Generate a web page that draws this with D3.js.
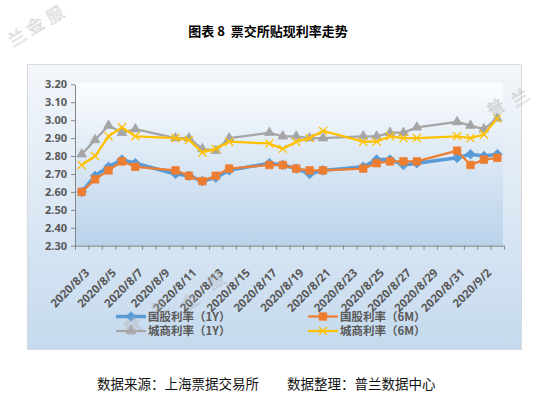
<!DOCTYPE html>
<html>
<head>
<meta charset="utf-8">
<script src="https://cdn.jsdelivr.net/npm/d3@7"></script>
<style>
  body { margin: 0; background: #fff; }
  svg { display: block; }
</style>
</head>
<body>
<div id="chart"></div>
<script>
// Trading days shown on the chart
const days = ["2020-08-03","2020-08-04","2020-08-05","2020-08-06","2020-08-07",
  "2020-08-10","2020-08-11","2020-08-12","2020-08-13","2020-08-14",
  "2020-08-17","2020-08-18","2020-08-19","2020-08-20","2020-08-21",
  "2020-08-24","2020-08-25","2020-08-26","2020-08-27","2020-08-28",
  "2020-08-31","2020-09-01","2020-09-02","2020-09-03"];

// Rates
const gg1y = [2.60,2.69,2.74,2.78,2.76, 2.70,2.69,2.66,2.68,2.72, 2.76,2.75,2.73,2.70,2.72, 2.74,2.78,2.78,2.75,2.76, 2.79,2.81,2.80,2.81];
const gg6m = [2.60,2.67,2.72,2.77,2.74, 2.72,2.69,2.66,2.69,2.73, 2.75,2.75,2.73,2.72,2.72, 2.73,2.76,2.77,2.77,2.77, 2.83,2.75,2.78,2.79];
const cs1y = [2.81,2.89,2.97,2.93,2.95, 2.90,2.90,2.84,2.83,2.90, 2.93,2.91,2.91,2.90,2.90, 2.91,2.91,2.93,2.93,2.96, 2.99,2.97,2.95,3.01];
const cs6m = [2.75,2.80,2.91,2.96,2.91, 2.90,2.89,2.82,2.84,2.88, 2.87,2.84,2.88,2.90,2.94, 2.88,2.88,2.91,2.90,2.90, 2.91,2.90,2.92,3.01];

const seriesNames = ["国股利率（1Y）", "国股利率（6M）", "城商利率（1Y）", "城商利率（6M）"];
const yTicks = [2.30,2.40,2.50,2.60,2.70,2.80,2.90,3.00,3.10,3.20];

const W = 536, H = 394;
const parse = d3.timeParse("%Y-%m-%d");
const fmt = d3.timeFormat("%Y/%-m/%-d");
const dates = days.map(parse);

const svg = d3.select("#chart").append("svg")
  .attr("width", W).attr("height", H);

const defs = svg.append("defs");
const g1 = defs.append("linearGradient").attr("id", "bg").attr("x1", 0).attr("y1", 0).attr("x2", 0).attr("y2", 1);
g1.append("stop").attr("offset", "0%").attr("stop-color", "#f3f6fa");
g1.append("stop").attr("offset", "100%").attr("stop-color", "#c5daee");
const g2 = defs.append("linearGradient").attr("id", "plotbg").attr("x1", 0).attr("y1", 0).attr("x2", 0).attr("y2", 1);
g2.append("stop").attr("offset", "0%").attr("stop-color", "#fbfcfe");
g2.append("stop").attr("offset", "100%").attr("stop-color", "#b9d2ea");

// Title
svg.append("text")
  .attr("x", 268).attr("y", 36)
  .attr("text-anchor", "middle")
  .style("font-family", "'Noto Sans CJK SC'")
  .style("font-weight", "bold")
  .style("font-size", "13px")
  .style("white-space", "pre")
  .attr("fill", "#000")
  .text("图表 8  票交所贴现利率走势");

// Chart area
svg.append("rect")
  .attr("x", 27.5).attr("y", 64.5).attr("width", 494).attr("height", 285)
  .attr("fill", "url(#bg)").attr("stroke", "#d9d9d9");

// Scales
let x = d3.scaleTime()
  .domain([parse("2020-08-03"), parse("2020-09-04")])
  .range([75, 504]);
let y = d3.scaleLinear().domain([2.30, 3.20]).range([245.7, 84.3]);
const mid = d => d3.timeHour.offset(d, 12);

svg.append("rect")
  .attr("x", 75).attr("y", 83).attr("width", 428).attr("height", 163)
  .attr("fill", "url(#plotbg)");

// Axes
const axisCol = "#868686";
const gy = svg.append("g").attr("transform", "translate(75,0)")
  .call(d3.axisLeft(y).tickValues(yTicks).tickFormat(d3.format(".2f")).tickSize(4).tickSizeOuter(0));
gy.selectAll("line, path").attr("stroke", axisCol);
gy.selectAll("text")
  .attr("x", -8)
  .style("font-family", "'Noto Sans'").style("font-weight", "bold").style("font-size", "11px")
  .attr("fill", "#595959");

const gx = svg.append("g").attr("transform", "translate(0,245.7)")
  .call(d3.axisBottom(x).tickValues(d3.timeDay.range(parse("2020-08-03"), parse("2020-09-05")))
    .tickFormat("").tickSize(4).tickSizeOuter(0));
gx.selectAll("line, path").attr("stroke", axisCol);

const labelDays = d3.timeDay.every(1).range(parse("2020-08-03"), parse("2020-09-03"))
  .filter((d, i) => i % 2 === 0).map(mid);
const gl = svg.append("g").attr("transform", "translate(0,245.7)")
  .call(d3.axisBottom(x).tickValues(labelDays).tickFormat(fmt).tickSize(0));
gl.select("path").remove();
gl.selectAll("text")
  .attr("text-anchor", "end")
  .attr("transform", "translate(5,25) rotate(-45)")
  .attr("dy", "0.35em").attr("y", 0)
  .style("font-family", "'Noto Sans'").style("font-weight", "bold").style("font-size", "11.5px")
  .attr("fill", "#595959");

// Marker shapes
const sym = {
  diamond: d3.symbol().type(d3.symbolDiamond2).size(60),
  square: d3.symbol().type(d3.symbolSquare).size(56),
  triangle: d3.symbol().type(d3.symbolTriangle).size(40),
  x: d3.symbol().type(d3.symbolX).size(44)
};

const series = [
  { vals: gg1y, color: "#5b9bd5", width: 3.5, shape: "diamond" },
  { vals: gg6m, color: "#ed7d31", width: 2.25, shape: "square" },
  { vals: cs1y, color: "#a5a5a5", width: 2.25, shape: "triangle" },
  { vals: cs6m, color: "#ffc000", width: 2.25, shape: "x" }
];

const line = d3.line().x(d => x(mid(d[0]))).y(d => y(d[1]));

function marker(sel, s) {
  sel.attr("d", sym[s.shape]);
  if (s.shape === "x") {
    sel.attr("fill", "none").attr("stroke", s.color).attr("stroke-width", 1.3);
  } else {
    sel.attr("fill", s.color).attr("stroke", s.color).attr("stroke-width", 0.8);
  }
}

series.forEach(s => {
  const pts = dates.map((d, i) => [d, s.vals[i]]);
  svg.append("path").datum(pts)
    .attr("d", line).attr("fill", "none")
    .attr("stroke", s.color).attr("stroke-width", s.width)
    .attr("stroke-linejoin", "round");
  svg.append("g").selectAll("path").data(pts).enter().append("path")
    .attr("transform", d => "translate(" + x(mid(d[0])) + "," + y(d[1]) + ")")
    .call(marker, s);
});

// Legend
const legPos = [[116, 316.5], [308, 316.5], [116, 331], [308, 331]];
series.forEach((s, i) => {
  const [lx, ly] = legPos[i];
  const lg = svg.append("g").attr("transform", "translate(" + lx + "," + ly + ")");
  lg.append("line").attr("x1", 0).attr("x2", 30).attr("y1", 0).attr("y2", 0)
    .attr("stroke", s.color).attr("stroke-width", s.width);
  lg.append("path").attr("transform", "translate(15,0)").call(marker, s);
  lg.append("text").attr("x", 32).attr("y", 4.2)
    .style("font-family", "'Noto Sans CJK SC'").style("font-weight", "bold").style("font-size", "11.5px")
    .attr("fill", "#595959").text(seriesNames[i]);
});

// Footer
const foot = svg.append("g")
  .style("font-family", "'Noto Sans CJK SC'").style("font-size", "13.5px").attr("fill", "#111");
foot.append("text").attr("x", 97).attr("y", 389).text("数据来源：上海票据交易所");
foot.append("text").attr("x", 287).attr("y", 389).text("数据整理：普兰数据中心");

// Faint watermark
const wm = [["兰", 17, 38], ["金", 35, 26], ["服", 55, 15],
  ["普", 133, 326], ["兰", 160, 308], ["金", 190, 302], ["服", 216, 281],
  ["普", 496, 108], ["兰", 520, 98]];
svg.append("g").selectAll("text").data(wm).enter().append("text")
  .attr("transform", d => "translate(" + d[1] + "," + d[2] + ") rotate(-32)")
  .attr("text-anchor", "middle").attr("dy", "0.35em")
  .style("font-family", "'Noto Sans CJK SC'").style("font-size", "17px")
  .attr("fill", "none").attr("stroke", "#b0b0b0").attr("stroke-width", 0.5)
  .attr("opacity", 0.7)
  .text(d => d[0]);
</script>
</body>
</html>
